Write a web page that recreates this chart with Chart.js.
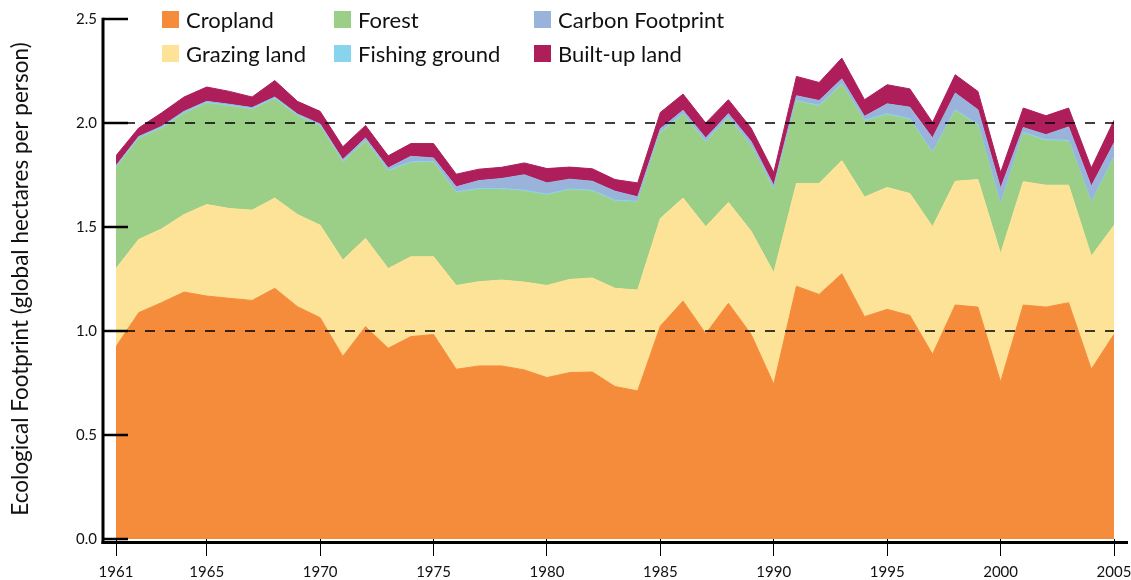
<!DOCTYPE html>
<html>
<head>
<meta charset="utf-8">
<title>Ecological Footprint</title>
<script src="https://cdn.jsdelivr.net/npm/chart.js@4.4.1/dist/chart.umd.min.js"></script>
<style>
    body { margin: 0; background: #fff; }
    #wrap { position: relative; width: 1131px; height: 580px; }
    #legend {
        position: absolute; left: 162px; top: 2px;
        display: grid; grid-auto-flow: column;
        grid-template-rows: 34px 34px; grid-template-columns: 172px 200px auto;
        font-family: Lato, sans-serif; font-size: 22px; color: #111;
    }
    .item { display: flex; align-items: center; white-space: nowrap; }
    .sw { width: 17px; height: 17px; margin-right: 7px; }
</style>
</head>
<body>
<div id="wrap">
    <canvas id="chart" width="1131" height="580"></canvas>
    <div id="legend"></div>
</div>
<script>
const years = [1961, 1962, 1963, 1964, 1965, 1966, 1967, 1968, 1969, 1970,
               1971, 1972, 1973, 1974, 1975, 1976, 1977, 1978, 1979, 1980,
               1981, 1982, 1983, 1984, 1985, 1986, 1987, 1988, 1989, 1990,
               1991, 1992, 1993, 1994, 1995, 1996, 1997, 1998, 1999, 2000,
               2001, 2002, 2003, 2004, 2005];

// global hectares per person, bottom layer first
const cropland = [0.925, 1.088, 1.136, 1.187, 1.168, 1.157, 1.147, 1.205, 1.117, 1.064,
                  0.878, 1.021, 0.917, 0.973, 0.983, 0.816, 0.832, 0.832, 0.813, 0.776,
                  0.800, 0.803, 0.733, 0.712, 1.024, 1.144, 0.987, 1.133, 0.984, 0.744,
                  1.215, 1.176, 1.275, 1.069, 1.104, 1.075, 0.888, 1.125, 1.115, 0.755,
                  1.125, 1.115, 1.136, 0.816, 0.984];
const grazing = [0.375, 0.352, 0.354, 0.373, 0.440, 0.432, 0.434, 0.434, 0.443, 0.445,
                 0.463, 0.424, 0.383, 0.384, 0.374, 0.403, 0.405, 0.413, 0.422, 0.443,
                 0.448, 0.452, 0.472, 0.485, 0.517, 0.495, 0.514, 0.485, 0.496, 0.536,
                 0.494, 0.533, 0.544, 0.575, 0.586, 0.586, 0.613, 0.595, 0.613, 0.616,
                 0.593, 0.586, 0.565, 0.544, 0.523];
const forest = [0.484, 0.484, 0.482, 0.485, 0.485, 0.491, 0.483, 0.476, 0.473, 0.475,
                0.469, 0.467, 0.468, 0.451, 0.454, 0.445, 0.443, 0.435, 0.437, 0.434,
                0.430, 0.417, 0.419, 0.422, 0.411, 0.401, 0.406, 0.406, 0.408, 0.397,
                0.394, 0.371, 0.365, 0.364, 0.350, 0.355, 0.355, 0.339, 0.260, 0.235,
                0.232, 0.214, 0.211, 0.256, 0.325];
const fishing = [0.005, 0.005, 0.005, 0.005, 0.005, 0.005, 0.005, 0.005, 0.005, 0.005,
                 0.005, 0.005, 0.005, 0.005, 0.005, 0.005, 0.005, 0.005, 0.005, 0.005,
                 0.005, 0.005, 0.005, 0.005, 0.005, 0.005, 0.005, 0.005, 0.005, 0.005,
                 0.005, 0.005, 0.005, 0.005, 0.005, 0.005, 0.005, 0.005, 0.005, 0.005,
                 0.005, 0.005, 0.005, 0.005, 0.005];
const carbon = [0.006, 0.006, 0.006, 0.006, 0.006, 0.005, 0.005, 0.005, 0.005, 0.006,
                0.009, 0.011, 0.011, 0.027, 0.016, 0.024, 0.038, 0.048, 0.074, 0.054,
                0.047, 0.043, 0.043, 0.021, 0.015, 0.016, 0.016, 0.016, 0.019, 0.017,
                0.023, 0.023, 0.023, 0.019, 0.047, 0.055, 0.067, 0.080, 0.071, 0.075,
                0.023, 0.024, 0.064, 0.075, 0.067];
const builtUp = [0.048, 0.041, 0.065, 0.069, 0.069, 0.062, 0.051, 0.079, 0.061, 0.061,
                 0.062, 0.060, 0.058, 0.061, 0.069, 0.061, 0.055, 0.054, 0.057, 0.069,
                 0.058, 0.060, 0.056, 0.067, 0.079, 0.078, 0.072, 0.067, 0.064, 0.063,
                 0.093, 0.087, 0.100, 0.080, 0.092, 0.088, 0.075, 0.088, 0.088, 0.076,
                 0.094, 0.091, 0.091, 0.088, 0.109];

const seriesNames = ['Cropland', 'Grazing land', 'Forest', 'Fishing ground', 'Carbon Footprint', 'Built-up land'];
const seriesColors = ['#f58c3b', '#fde397', '#9bce86', '#87d4ef', '#9ab3db', '#ad1e5a'];
const seriesData = [cropland, grazing, forest, fishing, carbon, builtUp];

const xTickYears = [1961, 1965, 1970, 1975, 1980, 1985, 1990, 1995, 2000, 2005];
const yTickValues = [0, 0.5, 1.0, 1.5, 2.0, 2.5];
const dashedLevels = [1.0, 2.0];

// legend grid (column-wise, like the original)
const legendEl = document.getElementById('legend');
seriesNames.forEach((name, i) => {
    const item = document.createElement('div');
    item.className = 'item';
    item.innerHTML = `<span class="sw" style="background:${seriesColors[i]}"></span><span>${name}</span>`;
    legendEl.appendChild(item);
});

// axis lines, inner tick marks and dashed guide lines
const axisDecor = {
    id: 'axisDecor',
    afterDatasetsDraw(chart) {
        const { ctx, chartArea, scales: { y } } = chart;
        const axisX = chartArea.left - 13;
        const tickEnd = chartArea.left + 12;
        const baseY = y.getPixelForValue(0) + 3.5;
        ctx.save();
        ctx.strokeStyle = '#000';

        ctx.lineWidth = 1.4;
        ctx.setLineDash([10, 10]);
        dashedLevels.forEach(v => {
            const py = y.getPixelForValue(v);
            ctx.beginPath();
            ctx.moveTo(tickEnd - 3, py);
            ctx.lineTo(chartArea.right, py);
            ctx.stroke();
        });
        ctx.setLineDash([]);

        ctx.lineWidth = 2.5;
        yTickValues.forEach(v => {
            const py = y.getPixelForValue(v);
            ctx.beginPath();
            ctx.moveTo(axisX, py);
            ctx.lineTo(tickEnd, py);
            ctx.stroke();
        });

        ctx.lineWidth = 3;
        ctx.beginPath();
        ctx.moveTo(axisX, y.getPixelForValue(2.5) - 1.25);
        ctx.lineTo(axisX, baseY + 1.5);
        ctx.stroke();
        ctx.beginPath();
        ctx.moveTo(axisX - 1.5, baseY);
        ctx.lineTo(chartArea.right + 14, baseY);
        ctx.stroke();
        ctx.restore();
    }
};

const labelFont = { family: 'Lato', size: 15 };

document.fonts.load('15px Lato').then(() => {
    new Chart(document.getElementById('chart'), {
        type: 'line',
        data: {
            datasets: seriesData.map((arr, i) => ({
                label: seriesNames[i],
                data: years.map((yr, k) => ({ x: yr, y: arr[k] })),
                backgroundColor: seriesColors[i],
                borderColor: seriesColors[i],
                borderWidth: 1,
                fill: i === 0 ? 'origin' : '-1',
                pointRadius: 0,
                tension: 0
            }))
        },
        options: {
            responsive: false,
            animation: false,
            layout: { padding: { top: 19, right: 17, left: 0, bottom: 0 } },
            plugins: { legend: { display: false }, tooltip: { enabled: false } },
            scales: {
                x: {
                    type: 'linear',
                    min: 1961,
                    max: 2005,
                    afterBuildTicks: s => { s.ticks = xTickYears.map(v => ({ value: v })); },
                    afterFit: s => { s.height = 41; s.paddingLeft = 0; s.paddingRight = 0; },
                    grid: { drawOnChartArea: false, drawTicks: true, tickLength: 17, color: '#000', lineWidth: 1 },
                    border: { display: false },
                    ticks: {
                        autoSkip: false, maxRotation: 0, padding: 7,
                        color: '#111', font: labelFont,
                        callback: v => String(v)
                    }
                },
                y: {
                    stacked: true,
                    min: 0,
                    max: 2.5,
                    afterBuildTicks: s => { s.ticks = yTickValues.map(v => ({ value: v })); },
                    afterFit: s => { s.width = 116; s.paddingTop = 0; s.paddingBottom = 0; },
                    grid: { display: false, drawTicks: false },
                    border: { display: false },
                    ticks: {
                        padding: 19, color: '#111', font: labelFont,
                        callback: v => v.toFixed(1)
                    },
                    title: {
                        display: true,
                        text: 'Ecological Footprint (global hectares per person)',
                        color: '#111',
                        font: { family: 'Lato', size: 22.5 },
                        padding: { top: 7.5, bottom: 0 }
                    }
                }
            }
        },
        plugins: [axisDecor]
    });
});
</script>
</body>
</html>
